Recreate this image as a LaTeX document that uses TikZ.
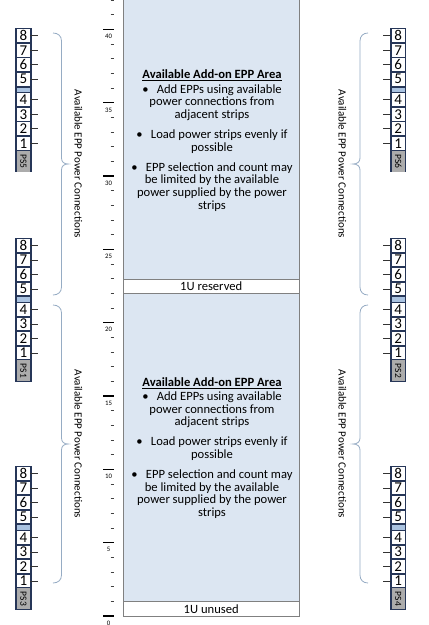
\documentclass[tikz,border=0pt]{standalone}
\usepackage{fontspec}
\setmainfont{Carlito}
\definecolor{rackfill}{RGB}{220,230,242}
\definecolor{rackline}{RGB}{128,128,128}
\definecolor{navy}{RGB}{38,54,88}
\definecolor{bandc}{RGB}{170,195,225}
\definecolor{psgray}{RGB}{172,172,172}
\definecolor{bracec}{RGB}{150,172,196}
\newcommand\pstrip[4]{%
  \fill[navy] (#1,#2) rectangle (#1+16.4,#2+144);
  \fill[bandc] (#1+1.6,#2+59.3) rectangle (#1+14.8,#2+63.5);
  \foreach \n [count=\i from 0] in {8,7,6,5}
    \node[cell] (#3-\n) at (#1+8.2,#2+7.4+14.5*\i) {\n};
  \foreach \n [count=\i from 0] in {4,3,2,1}
    \node[cell] (#3-\n) at (#1+8.2,#2+71.4+14.5*\i) {\n};
  \node[pscell] (#3-ps) at (#1+8.2,#2+132.9) {#4};
}
\newcommand\outletsL[1]{\foreach \n in {1,...,8}{%
  \coordinate (#1-o\n) at ([xshift=8pt]#1-\n.east);
  \draw[outlet] (#1-\n.east) -- (#1-o\n);}}
\newcommand\outletsR[1]{\foreach \n in {1,...,8}{%
  \coordinate (#1-o\n) at ([xshift=-8pt]#1-\n.west);
  \draw[outlet] (#1-\n.west) -- (#1-o\n);}}
% brace: #1 end x, #2 spine x, #3 cusp x, #4 top, #5 bottom
\newcommand\epbrace[5]{%
  \draw[bracestyle] (#1,#4) .. controls ({#1+0.6*(#2-#1)},#4) and (#2,#4+3) .. (#2,#4+8)
    -- (#2,{(#4+#5)/2-6}) .. controls (#2,{(#4+#5)/2-2}) and ({#2+0.4*(#3-#2)},{(#4+#5)/2}) .. (#3,{(#4+#5)/2})
    .. controls ({#2+0.4*(#3-#2)},{(#4+#5)/2}) and (#2,{(#4+#5)/2+2}) .. (#2,{(#4+#5)/2+6})
    -- (#2,#5-8) .. controls (#2,#5-3) and ({#1+0.6*(#2-#1)},#5) .. (#1,#5);}
\newcommand\addontext{\underline{\textbf{Available Add-on EPP Area}}\\[1.6pt]
\makebox[14.5pt][l]{•}Add EPPs using available\\ power connections from\\ adjacent strips\\[7.6pt]
\makebox[14.5pt][l]{•}Load power strips evenly if\\ possible\\[7.6pt]
\makebox[14.5pt][l]{•}EPP selection and count may\\ be limited by the available\\ power supplied by the power\\ strips}
\begin{document}
\begin{tikzpicture}[x=1pt,y=-1pt,
  cell/.style={fill=white, inner sep=0pt, minimum width=13.2pt, minimum height=12.8pt, font=\fontsize{15}{15}\selectfont},
  pscell/.style={fill=psgray, inner sep=0pt, rotate=-90, minimum width=20.9pt, minimum height=13.2pt, font=\fontsize{9.5}{9.5}\selectfont},
  outlet/.style={draw=black!80, line width=0.8pt},
  rackbox/.style={draw=rackline, line width=0.9pt},
  bracestyle/.style={draw=bracec, line width=0.8pt},
  vlabel/.style={rotate=-90, inner sep=0pt, font=\fontsize{11}{11}\selectfont},
  addon/.style={align=center, inner sep=0pt, font=\fontsize{12.6}{12.6}\selectfont},
  ulabel/.style={inner sep=0pt, font=\fontsize{12.6}{12.6}\selectfont},
  minortick/.style={draw=black!75, line width=0.7pt},
  majortick/.style={draw=black, line width=1.3pt},
  rulerlabel/.style={inner sep=0pt, font=\fontsize{6.8}{6.8}\selectfont}]
\useasboundingbox (0,0) rectangle (429,625);
\fill[white] (0,0) rectangle (429,625);
% rack
\draw[rackbox, fill=rackfill] (123.3,-3) rectangle (299,279);
\draw[rackbox, fill=white] (123.3,279) rectangle (299,293.7);
\draw[rackbox, fill=rackfill] (123.3,293.7) rectangle (299,601.3);
\draw[rackbox, fill=white] (123.3,601.3) rectangle (299,616);
\node[ulabel] (reserved) at (211.2,286.6) {1U reserved};
\node[ulabel] (unused) at (211.2,608.8) {1U unused};
\node[addon] (t1) at (212,140.5) {\addontext};
\node[addon] (t2) at (212,448) {\addontext};
% ruler
\foreach \u in {0,...,42}{%
  \pgfmathtruncatemacro\m{mod(\u,5)}%
  \ifnum\m=0
    \draw[majortick] (103,{616-14.6625*\u}) -- (114,{616-14.6625*\u});
    \node[rulerlabel] at (108.5,{616-14.6625*\u+7}) {\u};
  \else
    \draw[minortick] (110.5,{616-14.6625*\u}) -- (114,{616-14.6625*\u});
  \fi}
% power strips
\pstrip{15.3}{28.3}{PSfive}{PS5}
\pstrip{15.3}{238}{PSone}{PS1}
\pstrip{15.3}{466}{PSthree}{PS3}
\pstrip{390}{28.3}{PSsix}{PS6}
\pstrip{390}{238}{PStwo}{PS2}
\pstrip{390}{466}{PSfour}{PS4}
\outletsL{PSfive}\outletsL{PSone}\outletsL{PSthree}
\outletsR{PSsix}\outletsR{PStwo}\outletsR{PSfour}
% braces
\epbrace{53}{61.5}{68}{33}{295}
\epbrace{53}{61.5}{68}{305}{583}
\epbrace{368}{360}{353}{33}{295}
\epbrace{368}{360}{353}{305}{583}
\node[vlabel] (lA) at (78.5,164) {Available EPP Power Connections};
\node[vlabel] (lB) at (78.5,444) {Available EPP Power Connections};
\node[vlabel] (rA) at (342.5,164) {Available EPP Power Connections};
\node[vlabel] (rB) at (342.5,444) {Available EPP Power Connections};
\end{tikzpicture}
\end{document}
